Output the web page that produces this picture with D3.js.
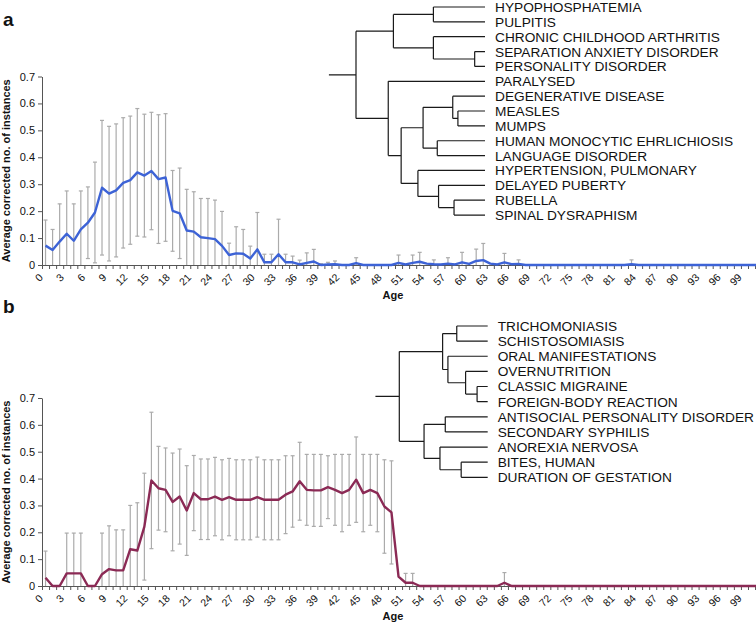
<!DOCTYPE html>
<html><head><meta charset="utf-8">
<script src="https://cdn.jsdelivr.net/npm/d3@7"></script>
<style>
body{margin:0;background:#fff}
svg{display:block;font-family:"Liberation Sans",Arial,sans-serif}
</style>
</head><body>
<svg id="c" width="756" height="628"></svg>
<script>
// ---------- DATA ----------
const ages = d3.range(0, 102);
const xTickLabels = d3.range(0, 100, 3);
const yTicks = [0, 0.1, 0.2, 0.3, 0.4, 0.5, 0.6, 0.7];

const meanA = [
 0.072,0.056,0.087,0.116,0.09,0.132,0.157,0.195,0.287,0.265,
 0.277,0.305,0.315,0.344,0.332,0.349,0.319,0.325,0.201,0.192,
 0.128,0.124,0.103,0.1,0.096,0.071,0.037,0.043,0.042,0.024,
 0.058,0.01,0.01,0.04,0.01,0.01,0.002,0.008,0.013,0,
 0.002,0.003,0,0,0.007,0,0,0,0,0,
 0.008,0.002,0.008,0.012,0.005,0.003,0.002,0.005,0.002,0.01,
 0.004,0.015,0.018,0.005,0.002,0.01,0.003,0.004,0,0,
 0,0,0,0,0,0,0,0,0,0,
 0,0,0,0.003,0,0,0,0,0,0,
 0,0,0,0,0,0,0,0,0,0,
 0,0];
const errA = [
 0.095,0.076,0.14,0.159,0.137,0.143,0.133,0.187,0.25,0.25,
 0.247,0.242,0.238,0.237,0.228,0.218,0.239,0.237,0.15,0.168,
 0.153,0.148,0.144,0.147,0.145,0.128,0.044,0.099,0.09,0.046,
 0.137,0.03,0.03,0.13,0.03,0.023,0.016,0.037,0.045,0.005,
 0.008,0.012,0,0,0.02,0,0,0,0,0,
 0.029,0,0.029,0.035,0,0.016,0,0.022,0,0.037,
 0,0.044,0.062,0,0,0.033,0,0.015,0,0,
 0,0,0,0,0,0,0,0,0,0,
 0,0,0,0.016,0,0,0,0,0,0,
 0,0,0,0,0,0,0,0,0,0,
 0,0];

const meanB = [
 0.031,0,0,0.047,0.047,0.047,0,0,0.044,0.063,
 0.058,0.058,0.137,0.132,0.221,0.393,0.364,0.358,0.313,0.333,
 0.281,0.346,0.323,0.323,0.333,0.321,0.331,0.321,0.321,0.321,
 0.331,0.321,0.321,0.321,0.34,0.352,0.39,0.358,0.356,0.356,
 0.368,0.358,0.346,0.358,0.396,0.346,0.358,0.346,0.296,0.274,
 0.035,0.012,0.012,0,0,0,0,0,0,0,
 0,0,0,0,0,0.012,0,0,0,0,
 0,0,0,0,0,0,0,0,0,0,
 0,0,0,0,0,0,0,0,0,0,
 0,0,0,0,0,0,0,0,0,0,
 0,0];
const errB = [
 0.099,0,0,0.15,0.15,0.15,0,0,0.153,0.161,
 0.151,0.151,0.163,0.178,0.199,0.254,0.156,0.156,0.182,0.177,
 0.167,0.14,0.15,0.15,0.146,0.149,0.144,0.149,0.149,0.149,
 0.149,0.149,0.149,0.149,0.145,0.133,0.145,0.132,0.134,0.134,
 0.117,0.132,0.144,0.132,0.159,0.144,0.132,0.144,0.174,0.192,
 0,0.035,0.035,0,0,0,0,0,0,0,
 0,0,0,0,0,0.038,0,0,0,0,
 0,0,0,0,0,0,0,0,0,0,
 0,0,0,0,0,0,0,0,0,0,
 0,0,0,0,0,0,0,0,0,0,
 0,0];

const leavesA = ["HYPOPHOSPHATEMIA","PULPITIS","CHRONIC CHILDHOOD ARTHRITIS",
 "SEPARATION ANXIETY DISORDER","PERSONALITY DISORDER","PARALYSED",
 "DEGENERATIVE DISEASE","MEASLES","MUMPS","HUMAN MONOCYTIC EHRLICHIOSIS",
 "LANGUAGE DISORDER","HYPERTENSION, PULMONARY","DELAYED PUBERTY","RUBELLA",
 "SPINAL DYSRAPHISM"];
// linkage rows: [childA, childB, height]; row k creates node leaves.length+k
const linkA = [
 [0,1,0.40],[3,4,0.08],[2,16,0.40],[15,17,0.71],
 [7,8,0.21],[6,19,0.25],[9,10,0.37],[20,21,0.48],
 [13,14,0.24],[12,23,0.36],[11,24,0.52],[22,25,0.65],
 [5,26,0.75],[18,27,1.0]];

const leavesB = ["TRICHOMONIASIS","SCHISTOSOMIASIS","ORAL MANIFESTATIONS",
 "OVERNUTRITION","CLASSIC MIGRAINE","FOREIGN-BODY REACTION",
 "ANTISOCIAL PERSONALITY DISORDER","SECONDARY SYPHILIS","ANOREXIA NERVOSA",
 "BITES, HUMAN","DURATION OF GESTATION"];
const linkB = [
 [0,1,0.35],[4,5,0.12],[3,12,0.25],[2,13,0.45],[11,14,0.51],
 [6,7,0.48],[9,10,0.30],[8,17,0.54],[16,18,0.72],[15,19,1.0]];

// ---------- LAYOUT ----------
const panels = [
 {label:"a", mean:meanA, err:errA, color:"#3d63d6", top:76.5, bottom:265, labelY:26,
  leaves:leavesA, link:linkA, leafX:485, rootX:356, leafY0:7, leafStep:14.86, stubH:1.21},
 {label:"b", mean:meanB, err:errB, color:"#8b2a55", top:398, bottom:586, labelY:313,
  leaves:leavesB, link:linkB, leafX:487.7, rootX:399.3, leafY0:326, leafStep:15.13, stubH:1.27}
];

const svg = d3.select("#c");
const x0 = 42, bw = 7.06;
const xBand = d3.scaleBand().domain(ages).range([x0, x0 + bw * ages.length]);
const xLin = d3.scaleLinear().domain([0, ages.length]).range(xBand.range());
const cx = d => xBand(d) + xBand.bandwidth() / 2;

function drawDendro(g, p) {
  const n = p.leaves.length;
  const hx = d3.scaleLinear().domain([0, 1]).range([p.leafX, p.rootX]);
  const ly = d3.scaleLinear().domain([0, 1]).range([p.leafY0, p.leafY0 + p.leafStep]);
  const nodes = p.leaves.map((name, i) => ({name, h: 0, y: ly(i)}));
  p.link.forEach(([a, b, h]) => {
    nodes.push({h, a: nodes[a], b: nodes[b], y: (nodes[a].y + nodes[b].y) / 2});
  });
  const root = nodes[nodes.length - 1];
  const path = d3.path();
  nodes.slice(n).forEach(nd => {
    const x = hx(nd.h);
    path.moveTo(x, nd.a.y); path.lineTo(x, nd.b.y);
    [nd.a, nd.b].forEach(c => { path.moveTo(x, c.y); path.lineTo(hx(c.h), c.y); });
  });
  path.moveTo(hx(p.stubH), root.y); path.lineTo(hx(root.h), root.y);
  g.append("path").attr("d", path.toString()).attr("fill", "none")
    .attr("stroke", "#1a1a1a").attr("stroke-width", 1.2);
  g.selectAll("text.leaf").data(nodes.slice(0, n)).join("text")
    .attr("class", "leaf").attr("x", hx(0) + 10).attr("y", d => d.y)
    .attr("dy", "0.36em").attr("font-size", 13.7).attr("fill", "#111")
    .text(d => d.name);
}

panels.forEach(p => {
  const g = svg.append("g");
  const y = d3.scaleLinear().domain([0, 0.7]).range([p.bottom, p.top]);

  // y axis
  const ya = g.append("g").attr("transform", `translate(${x0},0)`)
    .call(d3.axisLeft(y).tickValues(yTicks)
      .tickFormat(d => d === 0 ? "0" : d3.format(".1f")(d))
      .tickSize(4).tickSizeOuter(0));
  ya.attr("font-family", null).attr("font-size", null);
  ya.selectAll("path,line").attr("stroke", "#555");
  ya.selectAll("text").attr("font-size", 11).attr("fill", "#111");

  // x axis tick marks (category boundaries)
  const xt = g.append("g").attr("transform", `translate(0,${p.bottom})`)
    .call(d3.axisBottom(xLin).tickValues(d3.range(0, ages.length + 1))
      .tickFormat("").tickSize(4).tickSizeOuter(0));
  xt.selectAll("path,line").attr("stroke", "#555");

  // x labels
  const xl = g.append("g").attr("transform", `translate(0,${p.bottom})`)
    .call(d3.axisBottom(xBand).tickValues(xTickLabels).tickSize(0));
  xl.attr("font-family", null).attr("font-size", null);
  xl.select(".domain").remove();
  xl.selectAll("text").attr("x", 0).attr("y", 0).attr("dy", 0)
    .attr("transform", "translate(-2,13) rotate(-45)")
    .attr("text-anchor", "end").attr("font-size", 10.5).attr("fill", "#111");

  // titles
  g.append("text").attr("transform", `translate(10,${(p.top + p.bottom) / 2}) rotate(-90)`)
    .attr("text-anchor", "middle").attr("font-weight", "bold").attr("font-size", 11)
    .attr("fill", "#111").text("Average corrected no. of instances");
  g.append("text").attr("x", 393).attr("y", p.bottom + 34)
    .attr("text-anchor", "middle").attr("font-weight", "bold").attr("font-size", 11)
    .attr("fill", "#111").text("Age");
  g.append("text").attr("x", 3).attr("y", p.labelY)
    .attr("font-weight", "bold").attr("font-size", 19).attr("fill", "#111").text(p.label);

  // error bars
  const eb = ages.map(a => ({a, m: p.mean[a], e: p.err[a]})).filter(d => d.e > 0);
  const ebg = g.append("g").attr("stroke", "#ababab").attr("stroke-width", 1.2);
  eb.forEach(d => {
    const xx = cx(d.a), lo = Math.max(0, d.m - d.e), hi = d.m + d.e;
    ebg.append("line").attr("x1", xx).attr("x2", xx).attr("y1", y(lo)).attr("y2", y(hi));
    ebg.append("line").attr("x1", xx - 2).attr("x2", xx + 2).attr("y1", y(hi)).attr("y2", y(hi));
    if (d.m - d.e > 0)
      ebg.append("line").attr("x1", xx - 2).attr("x2", xx + 2).attr("y1", y(lo)).attr("y2", y(lo));
  });

  // series line
  g.append("path").datum(ages)
    .attr("d", d3.line().x(a => cx(a)).y(a => y(p.mean[a])))
    .attr("fill", "none").attr("stroke", p.color).attr("stroke-width", 2.4)
    .attr("stroke-linejoin", "round");

  drawDendro(g, p);
});
</script>
</body></html>
